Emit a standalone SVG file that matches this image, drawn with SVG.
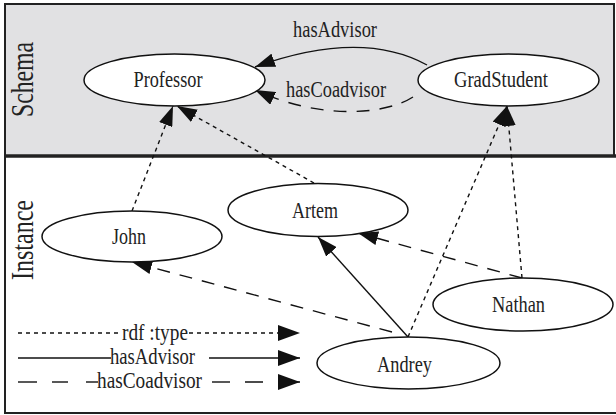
<svg xmlns="http://www.w3.org/2000/svg" width="616" height="415" viewBox="0 0 616 415">
  <style>
    .node ellipse { fill: #ffffff; stroke: #111111; stroke-width: 1.5; }
    .lbl { font-family: "Liberation Serif", "Times New Roman", serif; font-size: 23px; fill: #222222; }
    .side { font-family: "Liberation Serif", "Times New Roman", serif; font-size: 31px; fill: #222222; }
    .edge { fill: none; stroke: #111111; stroke-width: 1.4; }
    .type { stroke-dasharray: 4 4; }
    .co { stroke-dasharray: 13 10; }
  </style>
  <defs>
    <marker id="arrow" viewBox="0 0 20 14" markerUnits="userSpaceOnUse" markerWidth="20" markerHeight="14" refX="20" refY="7" orient="auto">
      <path d="M0,0 L20,7 L0,14 z" fill="#111111"/>
    </marker>
    <marker id="arrowBig" viewBox="0 0 22 16" markerUnits="userSpaceOnUse" markerWidth="22" markerHeight="16" refX="22" refY="8" orient="auto">
      <path d="M0,0 L22,8 L0,16 z" fill="#111111"/>
    </marker>
  </defs>

  <!-- panels -->
  <rect x="0" y="0" width="616" height="415" fill="#ffffff"/>
  <rect x="5" y="4" width="609" height="152" fill="#e1e1e3" stroke="#222222" stroke-width="2"/>
  <rect x="5" y="156" width="613" height="257" fill="#ffffff" stroke="#222222" stroke-width="2"/>
  <line x1="5" y1="156" x2="616" y2="156" stroke="#222222" stroke-width="3.5"/>
  <text class="side" text-anchor="middle" textLength="75" lengthAdjust="spacingAndGlyphs" transform="translate(33,79.5) rotate(-90)">Schema</text>
  <text class="side" text-anchor="middle" textLength="80" lengthAdjust="spacingAndGlyphs" transform="translate(33,240) rotate(-90)">Instance</text>

  <!-- connectors -->
  <g id="edges">
    <path class="edge" d="M427,65 C385,42 330,40 255,67" marker-end="url(#arrow)"/>
    <path class="edge co" d="M413,97 C385,115 320,120 255,90" marker-end="url(#arrow)"/>
    <path class="edge type" d="M132,211 L173,106" marker-end="url(#arrow)"/>
    <path class="edge type" d="M314,183 L177,106" marker-end="url(#arrow)"/>
    <path class="edge type" d="M408,337 L507,106" marker-end="url(#arrow)"/>
    <path class="edge type" d="M522,278 L507,106" marker-end="url(#arrow)"/>
    <path class="edge" d="M408,337 L318,237" marker-end="url(#arrow)"/>
    <path class="edge co" d="M392,332 L132,262" marker-end="url(#arrow)"/>
    <path class="edge co" d="M522,278 L358,233" marker-end="url(#arrow)"/>
    <text class="lbl" x="335" y="37" text-anchor="middle" textLength="84" lengthAdjust="spacingAndGlyphs">hasAdvisor</text>
    <text class="lbl" x="336" y="97" text-anchor="middle" textLength="100" lengthAdjust="spacingAndGlyphs">hasCoadvisor</text>
  </g>

  <!-- nodes -->
  <g id="professor" class="node">
    <ellipse cx="174.5" cy="80" rx="90.5" ry="26"/>
    <text class="lbl" x="168" y="87" text-anchor="middle" textLength="69" lengthAdjust="spacingAndGlyphs">Professor</text>
  </g>
  <g id="gradstudent" class="node">
    <ellipse cx="508.5" cy="80" rx="90.5" ry="26"/>
    <text class="lbl" x="501" y="87" text-anchor="middle" textLength="94" lengthAdjust="spacingAndGlyphs">GradStudent</text>
  </g>
  <g id="john" class="node">
    <ellipse cx="132" cy="236.5" rx="90" ry="25.5"/>
    <text class="lbl" x="129" y="244" text-anchor="middle" textLength="34" lengthAdjust="spacingAndGlyphs">John</text>
  </g>
  <g id="artem" class="node">
    <ellipse cx="318" cy="210" rx="90" ry="26.5"/>
    <text class="lbl" x="315" y="218" text-anchor="middle" textLength="46" lengthAdjust="spacingAndGlyphs">Artem</text>
  </g>
  <g id="nathan" class="node">
    <ellipse cx="523" cy="304.5" rx="90" ry="26.5"/>
    <text class="lbl" x="518.5" y="312" text-anchor="middle" textLength="53" lengthAdjust="spacingAndGlyphs">Nathan</text>
  </g>
  <g id="andrey" class="node">
    <ellipse cx="408.5" cy="363" rx="91.5" ry="26"/>
    <text class="lbl" x="404.5" y="372" text-anchor="middle" textLength="55" lengthAdjust="spacingAndGlyphs">Andrey</text>
  </g>

  <!-- legend -->
  <g id="legend">
    <line class="edge type" x1="18" y1="333" x2="121" y2="333"/>
    <path class="edge type" d="M189,333 L300,333" marker-end="url(#arrowBig)"/>
    <text class="lbl" x="155" y="340" text-anchor="middle" textLength="66" lengthAdjust="spacingAndGlyphs">rdf :type</text>

    <line class="edge" x1="18" y1="358" x2="111" y2="358"/>
    <path class="edge" d="M209,358 L300,358" marker-end="url(#arrowBig)"/>
    <text class="lbl" x="152.5" y="364" text-anchor="middle" textLength="85" lengthAdjust="spacingAndGlyphs">hasAdvisor</text>

    <line class="edge" x1="18" y1="382" x2="37" y2="382"/>
    <line class="edge" x1="52" y1="382" x2="68" y2="382"/>
    <line class="edge" x1="86" y1="382" x2="98" y2="382"/>
    <line class="edge" x1="212" y1="382" x2="230" y2="382"/>
    <path class="edge" d="M245,382 L263,382 M278,382 L300,382" marker-end="url(#arrowBig)"/>
    <text class="lbl" x="149.5" y="388" text-anchor="middle" textLength="105" lengthAdjust="spacingAndGlyphs">hasCoadvisor</text>
  </g>
</svg>
